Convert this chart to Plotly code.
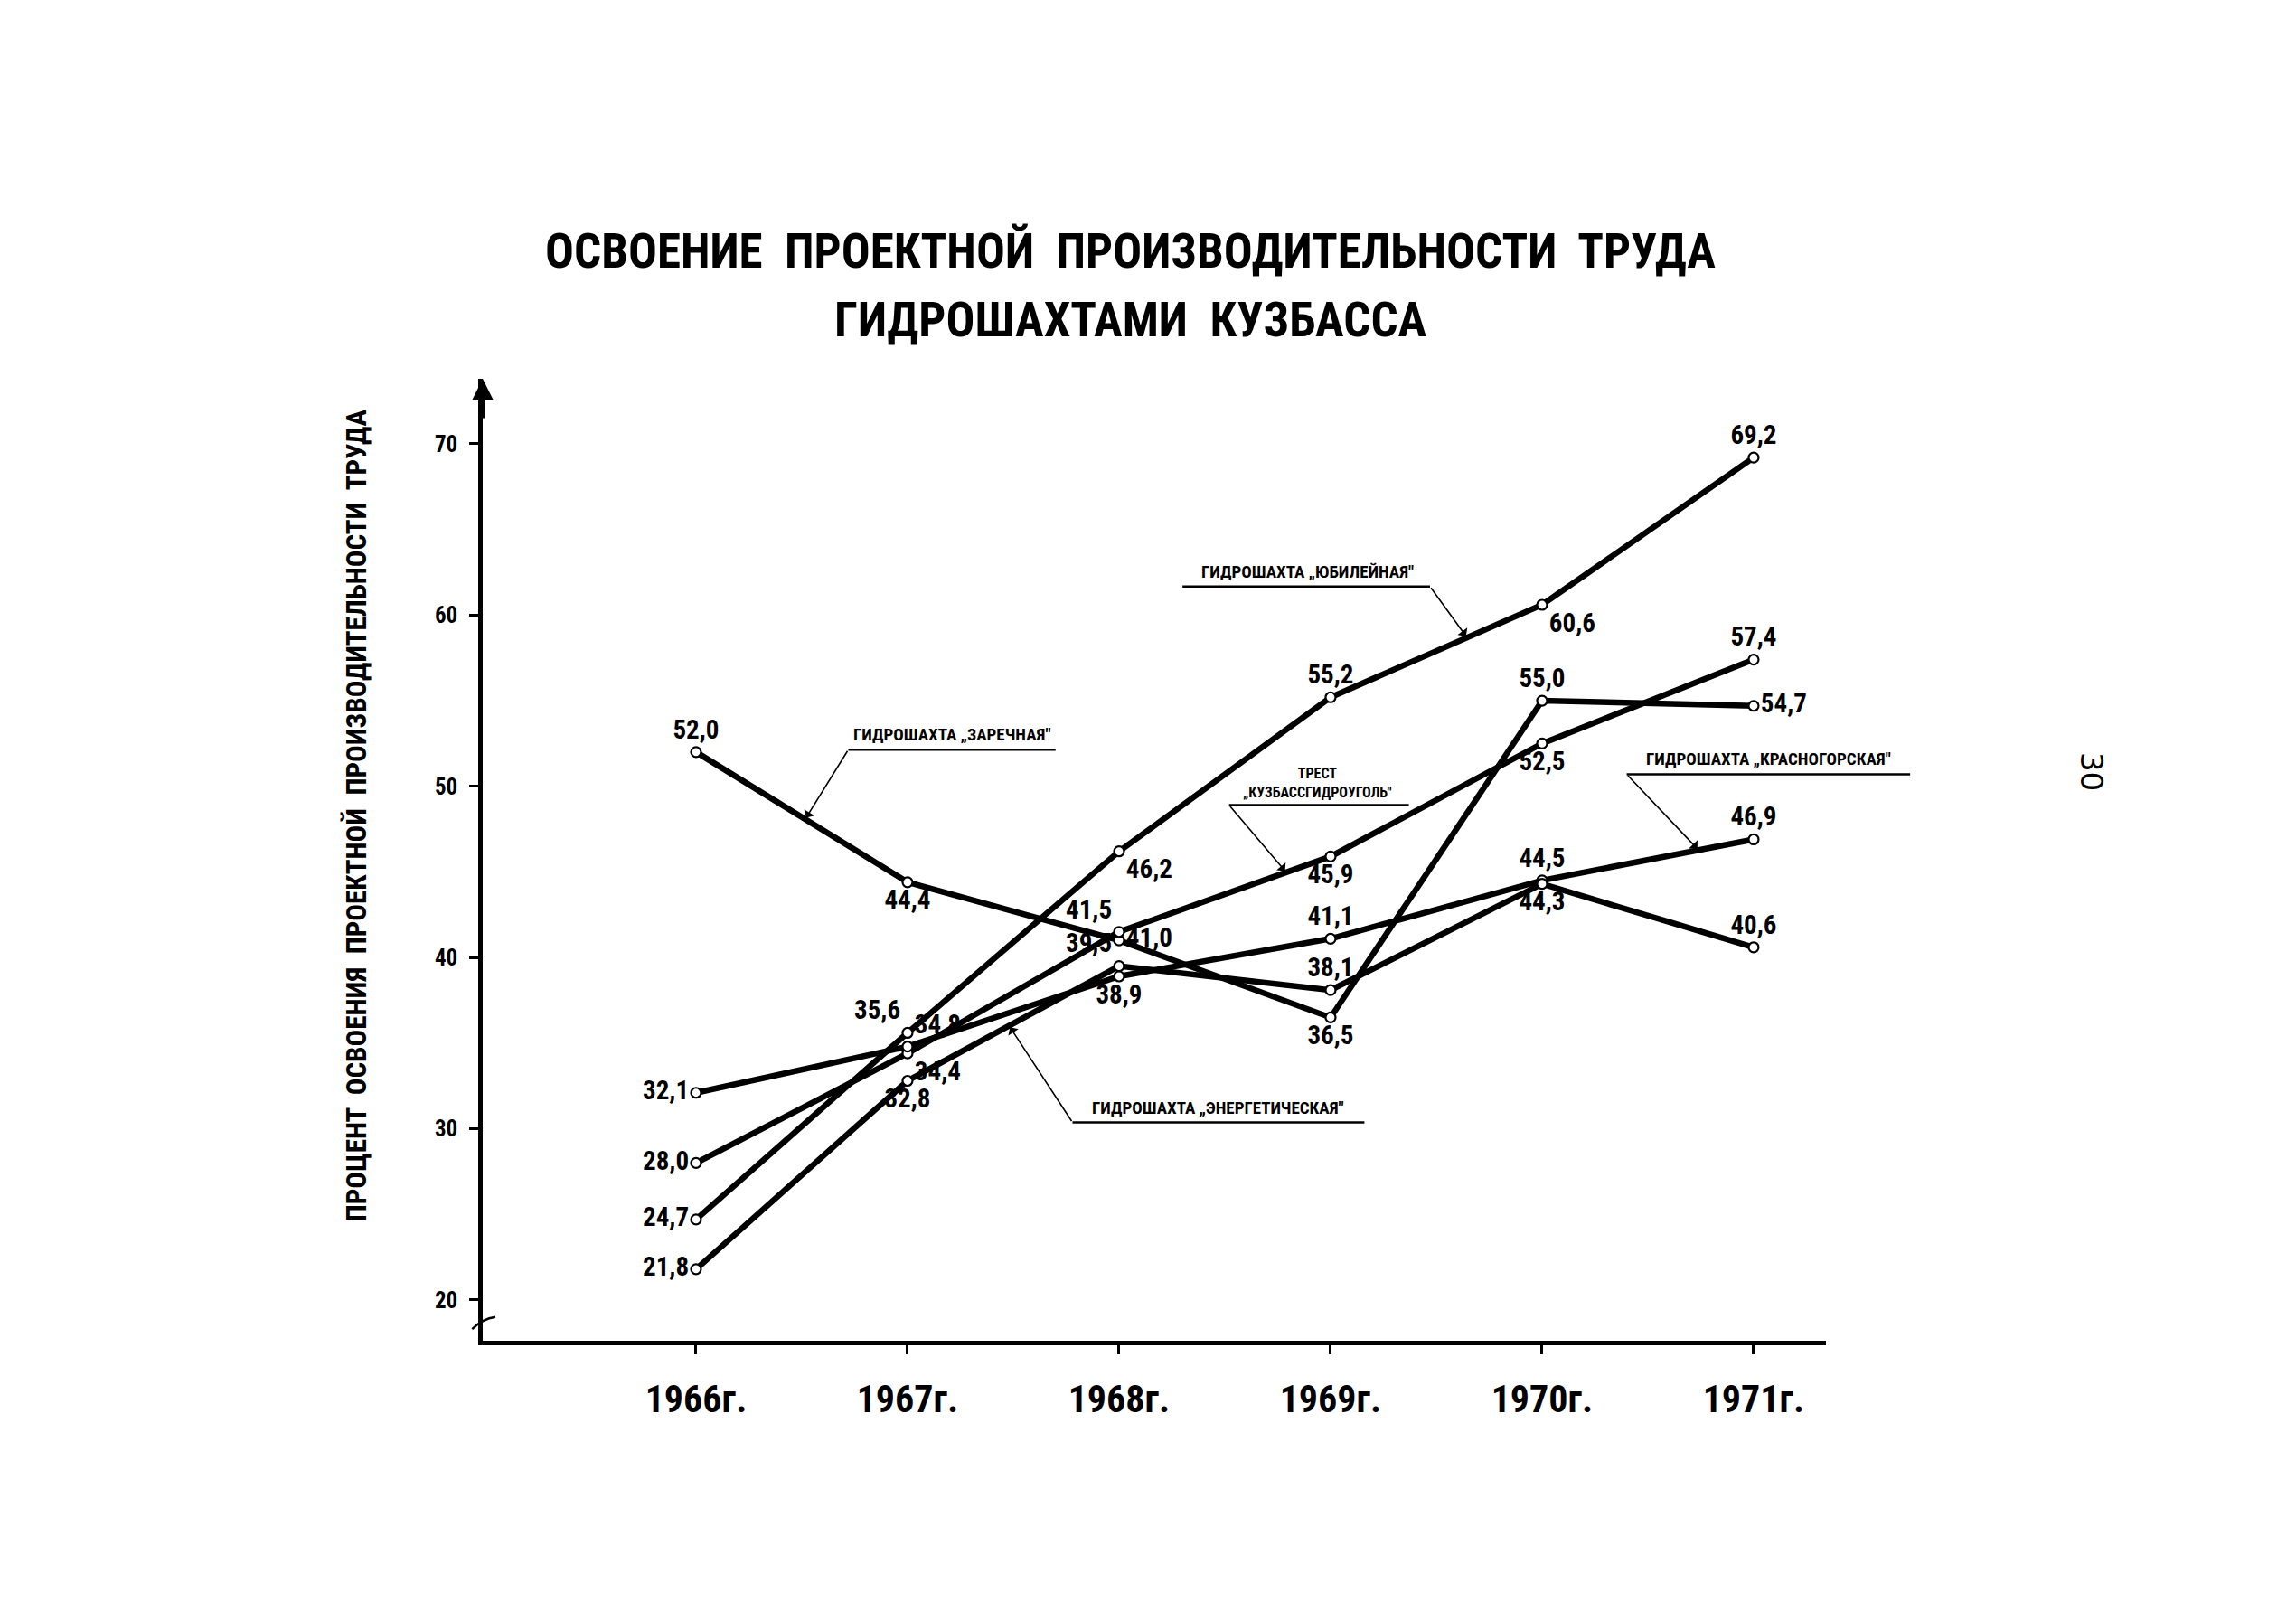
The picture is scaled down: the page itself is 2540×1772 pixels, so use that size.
import plotly.graph_objects as go

# ---------------- data ----------------
years = [1966, 1967, 1968, 1969, 1970, 1971]
year_labels = ["1966г.", "1967г.", "1968г.", "1969г.", "1970г.", "1971г."]

yubileynaya = [24.7, 35.6, 46.2, 55.2, 60.6, 69.2]
zarechnaya = [52.0, 44.4, 41.0, 36.5, 55.0, 54.7]
trest = [28.0, 34.4, 41.5, 45.9, 52.5, 57.4]
krasnogorskaya = [32.1, 34.8, 38.9, 41.1, 44.5, 46.9]
energeticheskaya = [21.8, 32.8, 39.5, 38.1, 44.3, 40.6]

y_ticks = [20, 30, 40, 50, 60, 70]

title_line1 = "ОСВОЕНИЕ  ПРОЕКТНОЙ  ПРОИЗВОДИТЕЛЬНОСТИ  ТРУДА"
title_line2 = "ГИДРОШАХТАМИ  КУЗБАССА"
y_title = "ПРОЦЕНТ  ОСВОЕНИЯ  ПРОЕКТНОЙ  ПРОИЗВОДИТЕЛЬНОСТИ  ТРУДА"

# ---------------- styling ----------------
FONT = "Liberation Sans Narrow, Roboto Condensed, Roboto, Liberation Sans, sans-serif"
BLACK = "#000000"

X0, X1 = 1964.9915, 1971.342
Y0, Y1 = 17.62, 73.80


def xp(x):
    return (x - X0) / (X1 - X0)


def yp(y):
    return (y - Y0) / (Y1 - Y0)


def fmt(v):
    return f"{v:.1f}".replace(".", ",")


series = [
    ("Юбилейная", yubileynaya,
     ["middle left", "top left", "bottom right", "top center", "bottom right", "top center"]),
    ("Заречная", zarechnaya,
     ["top center", "bottom center", "middle right", "bottom center", "top center", "middle right"]),
    ("Трест", trest,
     ["middle left", "bottom right", "top left", "bottom center", "bottom center", "top center"]),
    ("Красногорская", krasnogorskaya,
     ["middle left", "top right", "bottom center", "top center", "top center", "top center"]),
    ("Энергетическая", energeticheskaya,
     ["middle left", "bottom center", "top left", "top center", "bottom center", "top center"]),
]

fig = go.Figure()
for name, vals, pos in series:
    fig.add_trace(go.Scatter(
        x=years, y=vals, name=name,
        mode="lines+markers+text",
        text=[fmt(v) for v in vals],
        textposition=pos,
        textfont=dict(family=FONT, size=29, color=BLACK, weight="bold"),
        line=dict(color=BLACK, width=6.5),
        marker=dict(symbol="circle", size=11, color="white",
                    line=dict(color=BLACK, width=2.2)),
        cliponaxis=False,
        showlegend=False,
    ))

# ---------------- series labels with underline + leader ----------------
# (text lines, text center x, underline y, underline x0, x1, leader start x, series, segment, fraction, font)
label_specs = [
    (["ГИДРОШАХТА „ЮБИЛЕЙНАЯ\""], 1968.89, 61.67, 1968.30, 1969.47, 1969.47, yubileynaya, 3, 0.645, 19),
    (["ГИДРОШАХТА „ЗАРЕЧНАЯ\""], 1967.21, 52.14, 1966.72, 1967.70, 1966.72, zarechnaya, 0, 0.516, 19),
    (["ТРЕСТ", "„КУЗБАССГИДРОУГОЛЬ\""], 1968.94, 48.9, 1968.52, 1969.37, 1968.52, trest, 2, 0.79, 16),
    (["ГИДРОШАХТА „КРАСНОГОРСКАЯ\""], 1971.07, 50.7, 1970.40, 1971.74, 1970.40, krasnogorskaya, 4, 0.74, 19),
    (["ГИДРОШАХТА „ЭНЕРГЕТИЧЕСКАЯ\""], 1968.47, 30.37, 1967.78, 1969.16, 1967.78, energeticheskaya, 1, 0.48, 19),
]

shapes = []
annotations = []
for lines, cx, uy, ux0, ux1, lx, vals, seg, t, fs in label_specs:
    annotations.append(dict(
        text="<br>".join(lines), x=xp(cx), y=yp(uy), xref="paper", yref="paper",
        xanchor="center", yanchor="bottom", yshift=3, showarrow=False,
        font=dict(family=FONT, size=fs, color=BLACK, weight="bold"),
    ))
    shapes.append(dict(type="line", xref="paper", yref="paper",
                       x0=xp(ux0), x1=xp(ux1), y0=yp(uy), y1=yp(uy),
                       line=dict(color=BLACK, width=2.5)))
    tx = years[seg] + t
    ty = vals[seg] + t * (vals[seg + 1] - vals[seg])
    annotations.append(dict(
        text="", x=tx, y=ty, xref="x", yref="y",
        ax=lx, ay=uy, axref="x", ayref="y",
        showarrow=True, arrowhead=1, arrowsize=1.4, arrowwidth=1.6,
        arrowcolor=BLACK, standoff=2,
    ))

# title
annotations.append(dict(text=title_line1, x=0.4825, y=1.1325, xref="paper", yref="paper",
                        xanchor="center", yanchor="middle", showarrow=False,
                        font=dict(family=FONT, size=53, color=BLACK, weight="bold")))
annotations.append(dict(text=title_line2, x=0.4825, y=1.061, xref="paper", yref="paper",
                        xanchor="center", yanchor="middle", showarrow=False,
                        font=dict(family=FONT, size=53, color=BLACK, weight="bold")))
# y axis title
annotations.append(dict(text=y_title, x=-0.094, y=0.546, xref="paper", yref="paper",
                        xanchor="center", yanchor="middle", textangle=-90, showarrow=False,
                        font=dict(family=FONT, size=31, color=BLACK, weight="bold")))
# page number
annotations.append(dict(text="30", x=1.198, y=0.592, xref="paper", yref="paper",
                        xanchor="center", yanchor="middle", textangle=90, showarrow=False,
                        font=dict(family="DejaVu Sans, sans-serif", size=34, color=BLACK)))
# arrow at top of y axis
annotations.append(dict(text="", x=0, y=1.0, xref="paper", yref="paper",
                        ax=0, ay=45, axref="pixel", ayref="pixel",
                        showarrow=True, arrowhead=2, arrowsize=1.2, arrowwidth=4,
                        arrowcolor=BLACK, standoff=0))

# axis break mark near 20
shapes.append(dict(type="path", xref="paper", yref="y",
                   path=f"M {xp(X0 - 0.05)},18.3 Q {xp(X0)},18.9 {xp(X0 + 0.06)},19.0",
                   line=dict(color=BLACK, width=2.5)))

fig.update_layout(
    width=2540, height=1772,
    paper_bgcolor="white", plot_bgcolor="white",
    margin=dict(l=526, r=528, t=411, b=297),
    shapes=shapes, annotations=annotations,
    font=dict(family=FONT, color=BLACK),
    xaxis=dict(
        range=[X0, X1], tickvals=years, ticktext=year_labels,
        showline=True, linecolor=BLACK, linewidth=4.5,
        ticks="outside", ticklen=10, tickwidth=3, tickcolor=BLACK,
        ticklabelstandoff=14,
        tickfont=dict(family=FONT, size=42, color=BLACK, weight="bold"),
        showgrid=False, zeroline=False,
    ),
    yaxis=dict(
        range=[Y0, Y1], tickvals=y_ticks,
        showline=True, linecolor=BLACK, linewidth=4.5,
        ticks="outside", ticklen=10, tickwidth=3, tickcolor=BLACK,
        ticklabelstandoff=8,
        tickfont=dict(family=FONT, size=25, color=BLACK, weight="bold"),
        showgrid=False, zeroline=False,
    ),
)

fig.write_html("out.html")
